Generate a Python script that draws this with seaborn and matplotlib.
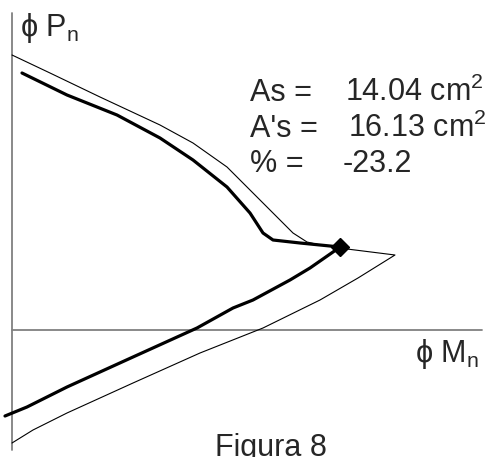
import numpy as np
import pandas as pd
import matplotlib
matplotlib.use("Agg")
import matplotlib.pyplot as plt
import seaborn as sns

# Interaction diagram values (arbitrary units)
nominal_M = [0, 38, 88, 148, 181, 215, 235, 258, 281, 295, 308, 335, 383, 346, 308, 251, 188, 121, 55, 21, 0]
nominal_P = [275, 257, 233, 205, 187, 163, 143, 120, 97, 88, 85, 81, 75, 52, 30, 2, -23, -53, -83, -100, -113]

design_M = [10, 55, 105, 148, 181, 215, 238, 251, 261, 288, 328, 321, 298, 278, 241, 221, 185, 121, 55, 15, -7]
design_P = [257, 235, 215, 192, 170, 143, 117, 97, 90, 87, 83, 78, 62, 50, 30, 22, 2, -27, -57, -77, -86]

balance_M = [328]
balance_P = [83]

labels = ["As =", "A's =", "% ="]
values = [r"14.04 cm$^\mathregular{2}$", r"16.13 cm$^\mathregular{2}$", "-23.2"]
title = "Figura 8"

sns.set_theme(style="white")
plt.rcParams["font.family"] = ["Liberation Sans", "DejaVu Sans"]
plt.rcParams["mathtext.fontset"] = "custom"
plt.rcParams["mathtext.rm"] = "Liberation Sans"

fig = plt.figure(figsize=(4.92, 4.57), dpi=100)
ax = fig.add_axes([0, 0, 1, 1])

# axes lines
ax.plot([0, 0], [-120, 317], color="#808080", lw=1.3, zorder=1)
ax.plot([0, 470], [0, 0], color="#808080", lw=1.3, zorder=1)

df_nom = pd.DataFrame({"M": nominal_M, "P": nominal_P})
df_des = pd.DataFrame({"M": design_M, "P": design_P})
sns.lineplot(data=df_nom, x="M", y="P", sort=False, estimator=None, color="black", lw=0.8, ax=ax)
sns.lineplot(data=df_des, x="M", y="P", sort=False, estimator=None, color="black", lw=2.3, ax=ax)
ax.plot(balance_M, balance_P, marker="D", ms=9, color="black", ls="none", zorder=5)
ax.set_xlim(-12, 480)
ax.set_ylim(-127, 330)
ax.axis("off")

fs = 22
ax.text(8, 294, r"ϕ P$_\mathregular{n}$", fontsize=fs, va="baseline", ha="left")
ax.text(403, -32, r"ϕ M$_\mathregular{n}$", fontsize=fs, va="baseline", ha="left")
ys = [229, 193, 158]
xs = [333, 336, 331]
for lab, val, y, x in zip(labels, values, ys, xs):
    ax.text(238, y, lab, fontsize=fs, va="baseline", ha="left")
    ax.text(x, y, val, fontsize=fs, va="baseline", ha="left")
ax.text(203, -126, title, fontsize=fs, va="baseline", ha="left")

fig.savefig("out.png", dpi=100)
